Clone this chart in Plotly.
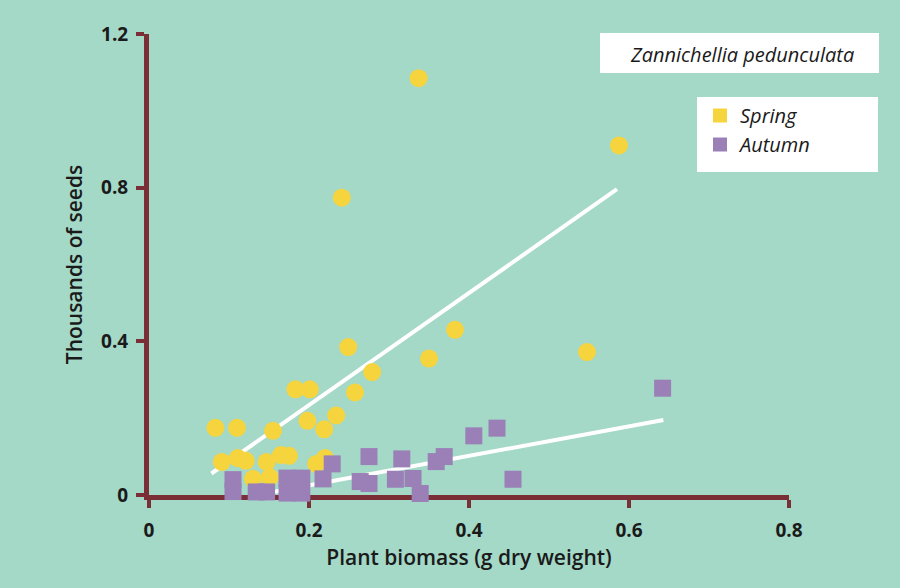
import plotly.graph_objects as go

# ---- data ----
spring_x = [0.337, 0.5875, 0.241, 0.3825, 0.350, 0.5475, 0.249, 0.279, 0.2575, 0.183,
            0.201, 0.234, 0.198, 0.219, 0.083, 0.110, 0.155, 0.091, 0.111, 0.121,
            0.147, 0.165, 0.175, 0.130, 0.151, 0.209, 0.220]
spring_y = [1.085, 0.910, 0.774, 0.430, 0.355, 0.372, 0.385, 0.320, 0.267, 0.275,
            0.275, 0.207, 0.193, 0.171, 0.175, 0.175, 0.167, 0.086, 0.096, 0.089,
            0.086, 0.104, 0.102, 0.042, 0.046, 0.081, 0.096]

autumn_x = [0.642, 0.435, 0.406, 0.369, 0.359, 0.316, 0.275, 0.455, 0.330, 0.339,
            0.308, 0.264, 0.275, 0.229, 0.2175, 0.105, 0.105, 0.134, 0.147, 0.1725,
            0.191, 0.1725, 0.191]
autumn_y = [0.278, 0.174, 0.154, 0.100, 0.087, 0.094, 0.100, 0.041, 0.043, 0.004,
            0.041, 0.035, 0.030, 0.081, 0.042, 0.040, 0.009, 0.008, 0.008, 0.044,
            0.044, 0.005, 0.005]

spring_fit_x = [0.078, 0.585]
spring_fit_y = [0.056, 0.796]
autumn_fit_x = [0.150, 0.643]
autumn_fit_y = [0.006, 0.195]

x_tick_vals = [0, 0.2, 0.4, 0.6, 0.8]
x_tick_text = ["0", "0.2", "0.4", "0.6", "0.8"]
y_tick_vals = [0, 0.4, 0.8, 1.2]
y_tick_text = ["0", "0.4", "0.8", "1.2"]

series_names = ["Spring", "Autumn"]
species = "Zannichellia pedunculata"
x_title = "Plant biomass (g dry weight)"
y_title = "Thousands of seeds"

# ---- styles ----
BG = "#a4d8c7"
AXIS = "#7a2e36"
YELLOW = "#f6d43e"
PURPLE = "#9a80b6"
FONT = "Open Sans"
INK = "#1a1a1a"

fig = go.Figure()

fig.add_trace(go.Scatter(x=spring_fit_x, y=spring_fit_y, mode="lines",
                         line=dict(color="white", width=4), showlegend=False,
                         hoverinfo="skip"))
fig.add_trace(go.Scatter(x=autumn_fit_x, y=autumn_fit_y, mode="lines",
                         line=dict(color="white", width=4), showlegend=False,
                         hoverinfo="skip"))

fig.add_trace(go.Scatter(x=spring_x, y=spring_y, mode="markers", name=series_names[0],
                         marker=dict(symbol="circle", size=18, color=YELLOW,
                                     line=dict(width=0)),
                         showlegend=False, cliponaxis=False))
fig.add_trace(go.Scatter(x=autumn_x, y=autumn_y, mode="markers", name=series_names[1],
                         marker=dict(symbol="square", size=17, color=PURPLE,
                                     line=dict(width=0)),
                         showlegend=False, cliponaxis=False))

# legend entries (square swatches as in the reference)
fig.add_trace(go.Scatter(x=[None], y=[None], mode="markers", name=series_names[0],
                         marker=dict(symbol="square", size=14, color=YELLOW)))
fig.add_trace(go.Scatter(x=[None], y=[None], mode="markers", name=series_names[1],
                         marker=dict(symbol="square", size=14, color=PURPLE)))

L, R, T, B = 149, 111, 34, 93
W, H = 900 - L - R, 588 - T - B

def px_x(p):
    return (p - L) / W

def px_y(p):
    return (588 - B - p) / H

fig.update_layout(
    width=900, height=588,
    margin=dict(l=L, r=R, t=T, b=B),
    paper_bgcolor=BG, plot_bgcolor=BG,
    font=dict(family=FONT, color=INK, size=18),
    showlegend=True,
    legend=dict(x=px_x(700), y=px_y(96), xanchor="left", yanchor="top",
                bgcolor="rgba(0,0,0,0)", borderwidth=0,
                font=dict(family=FONT, size=20, style="italic", color=INK),
                itemwidth=30, tracegroupgap=0),
    shapes=[
        dict(type="rect", xref="paper", yref="paper",
             x0=px_x(600), x1=px_x(879), y0=px_y(73), y1=px_y(33),
             fillcolor="white", line=dict(width=0), layer="below"),
        dict(type="rect", xref="paper", yref="paper",
             x0=px_x(697), x1=px_x(878), y0=px_y(172), y1=px_y(97),
             fillcolor="white", line=dict(width=0), layer="below"),
    ],
    annotations=[
        dict(text=species, xref="paper", yref="paper", x=px_x(742), y=px_y(54),
             xanchor="center", yanchor="middle", showarrow=False,
             font=dict(family=FONT, size=20, style="italic", color=INK)),
    ],
)

fig.update_xaxes(range=[0, 0.8], tickvals=x_tick_vals, ticktext=x_tick_text,
                 showgrid=False, zeroline=False, showline=True, linecolor=AXIS,
                 linewidth=5, ticks="outside", ticklen=8, tickwidth=4,
                 tickcolor=AXIS, layer="below traces",
                 tickfont=dict(family=FONT, size=19, weight=700, color=INK),
                 ticklabelstandoff=6,
                 title=dict(text=x_title, standoff=4,
                            font=dict(family=FONT, size=21, weight=600, color=INK)))
fig.update_yaxes(range=[0, 1.2], tickvals=y_tick_vals, ticktext=y_tick_text,
                 showgrid=False, zeroline=False, showline=True, linecolor=AXIS,
                 linewidth=5, ticks="outside", ticklen=8, tickwidth=4,
                 tickcolor=AXIS, layer="below traces",
                 tickfont=dict(family=FONT, size=19, weight=700, color=INK),
                 ticklabelstandoff=4,
                 title=dict(text=y_title, standoff=14,
                            font=dict(family=FONT, size=21, weight=600, color=INK)))

fig.write_html("out.html")
